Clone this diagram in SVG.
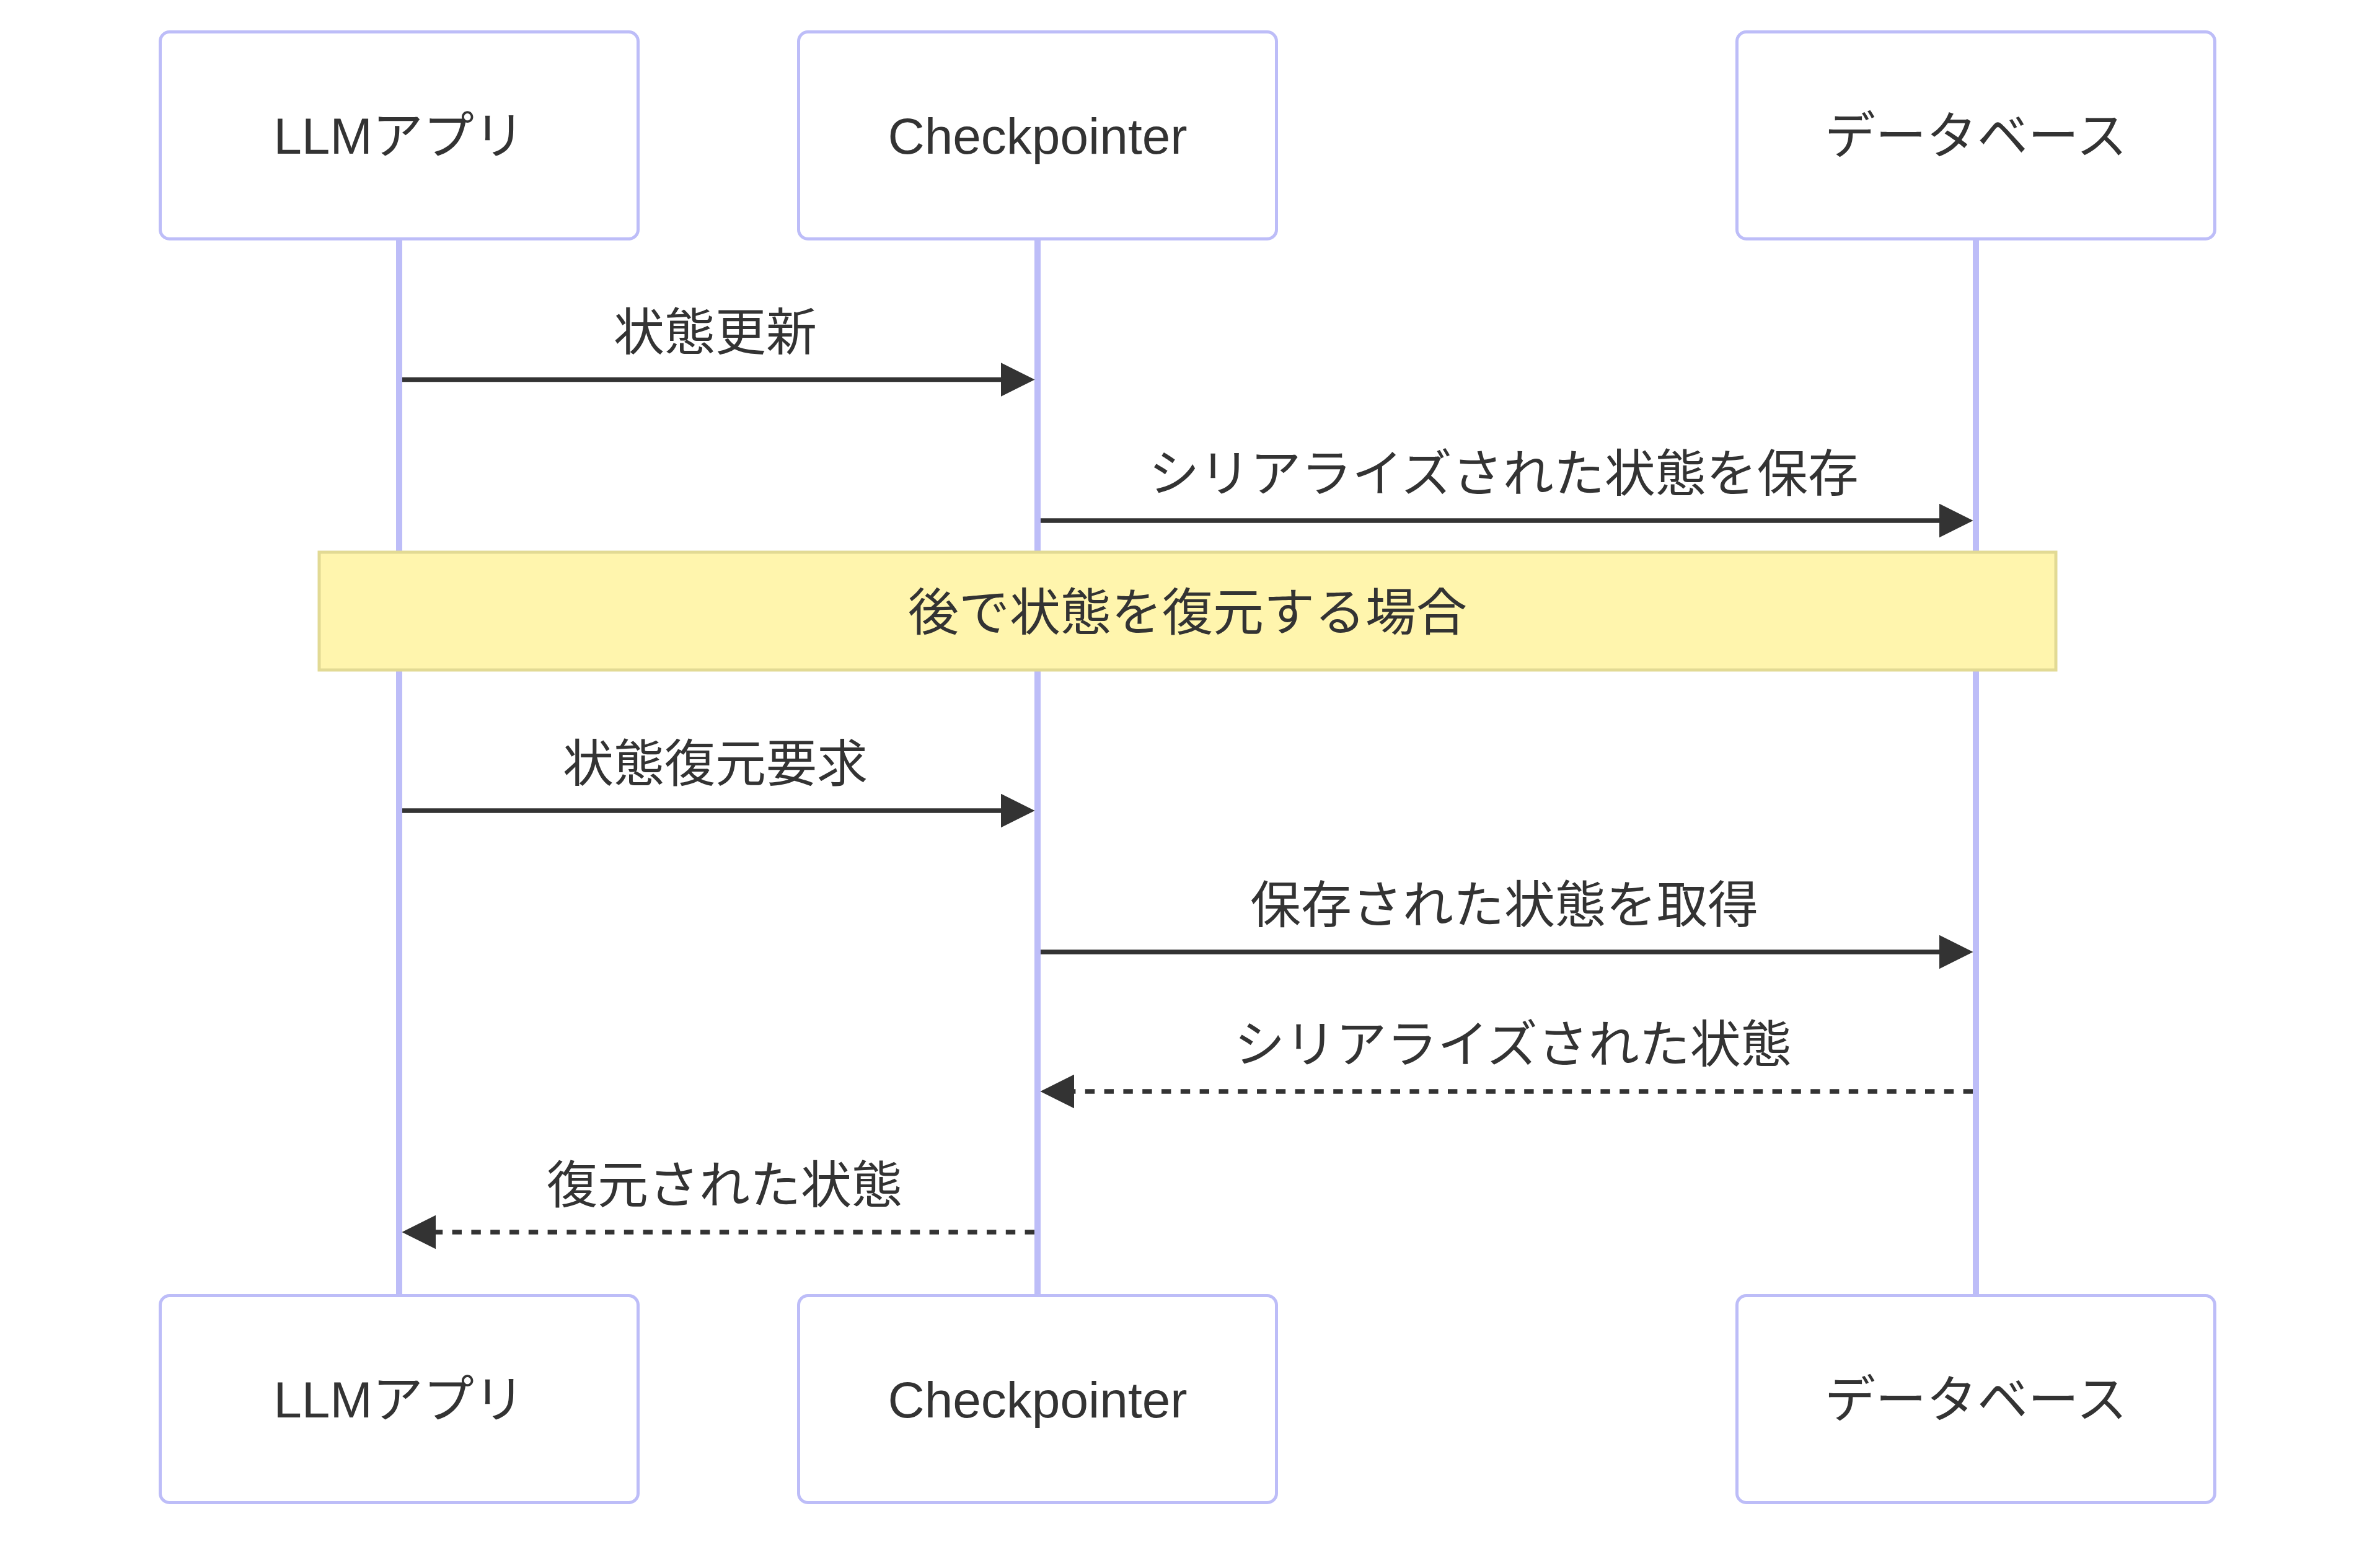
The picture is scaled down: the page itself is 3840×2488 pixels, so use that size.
<svg xmlns="http://www.w3.org/2000/svg" width="3840" height="2488" viewBox="0 0 3840 2488">
<style>
  .actor{fill:#ffffff;stroke:#bdbdf8;stroke-width:5}
  .lifeline{stroke:#bdbdf8;stroke-width:10}
  .txt{font-family:"Liberation Sans","Noto Sans CJK JP",sans-serif;font-size:82px;fill:#333333;text-anchor:middle;dominant-baseline:central}
  .msg{stroke:#333333;stroke-width:7.7;fill:none}
  .dash{stroke-dasharray:15.4 15.4}
  .note{fill:#fff5ad;stroke:#e2da94;stroke-width:5}
</style>
<defs>
  <marker id="arrow" viewBox="0 0 10 10" markerUnits="userSpaceOnUse" markerWidth="55" markerHeight="55" refX="7.9" refY="5" orient="auto">
    <path d="M0,0 L10,5 L0,10 z" fill="#333333"/>
  </marker>
</defs>
<rect width="3840" height="2488" fill="#ffffff"/>
<g id="lifelines">
  <line class="lifeline" x1="644" y1="385" x2="644" y2="2091"/>
  <line class="lifeline" x1="1674" y1="385" x2="1674" y2="2091"/>
  <line class="lifeline" x1="3188" y1="385" x2="3188" y2="2091"/>
</g>
<g id="actor-llm-top"><rect class="actor" x="258.5" y="51.5" width="771" height="334" rx="15"/><text class="txt" x="644" y="219">LLMアプリ</text></g>
<g id="actor-cp-top"><rect class="actor" x="1288.5" y="51.5" width="771" height="334" rx="15"/><text class="txt" x="1674" y="219">Checkpointer</text></g>
<g id="actor-db-top"><rect class="actor" x="2802.5" y="51.5" width="771" height="334" rx="15"/><text class="txt" x="3188" y="219">データベース</text></g>
<g id="actor-llm-bottom"><rect class="actor" x="258.5" y="2090.5" width="771" height="334" rx="15"/><text class="txt" x="644" y="2258">LLMアプリ</text></g>
<g id="actor-cp-bottom"><rect class="actor" x="1288.5" y="2090.5" width="771" height="334" rx="15"/><text class="txt" x="1674" y="2258">Checkpointer</text></g>
<g id="actor-db-bottom"><rect class="actor" x="2802.5" y="2090.5" width="771" height="334" rx="15"/><text class="txt" x="3188" y="2258">データベース</text></g>
<g id="note"><rect class="note" x="515" y="891" width="2802" height="190"/><text class="txt" x="1916" y="988">後で状態を復元する場合</text></g>
<g id="connectors">
  <line class="msg" x1="649" y1="612.5" x2="1658" y2="612.5" marker-end="url(#arrow)"/>
  <text class="txt" x="1154" y="536">状態更新</text>
  <line class="msg" x1="1679" y1="840" x2="3172" y2="840" marker-end="url(#arrow)"/>
  <text class="txt" x="2426" y="764">シリアライズされた状態を保存</text>
  <line class="msg" x1="649" y1="1308" x2="1658" y2="1308" marker-end="url(#arrow)"/>
  <text class="txt" x="1154" y="1232">状態復元要求</text>
  <line class="msg" x1="1679" y1="1536" x2="3172" y2="1536" marker-end="url(#arrow)"/>
  <text class="txt" x="2427" y="1460">保存された状態を取得</text>
  <line class="msg dash" x1="3183" y1="1761" x2="1690" y2="1761" marker-end="url(#arrow)"/>
  <text class="txt" x="2441" y="1685">シリアライズされた状態</text>
  <line class="msg dash" x1="1669" y1="1988" x2="660" y2="1988" marker-end="url(#arrow)"/>
  <text class="txt" x="1169" y="1912">復元された状態</text>
</g>
</svg>
